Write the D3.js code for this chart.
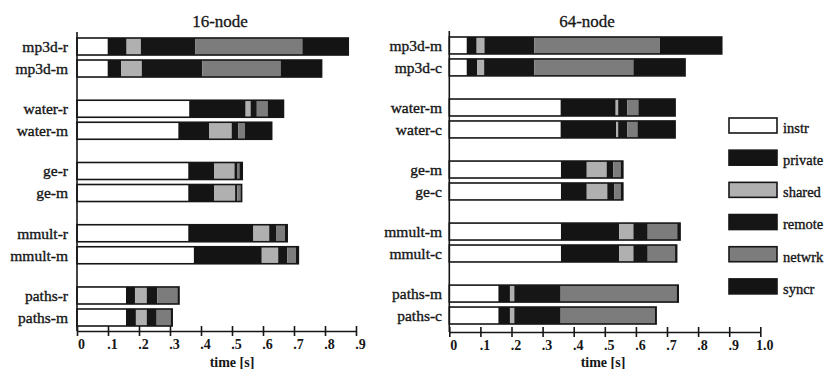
<!DOCTYPE html>
<html>
<head>
<meta charset="utf-8">
<script src="https://cdn.jsdelivr.net/npm/d3@7"></script>
<style>
  html, body { margin: 0; padding: 0; background: #fff; }
  svg { display: block; }
  text { font-family: "Liberation Serif", "DejaVu Serif", serif; fill: #161616; }
</style>
</head>
<body>
<svg id="chart" width="829" height="369"></svg>
<script>
// ---------- data ----------
const segmentNames = ["instr", "private", "shared", "remote", "netwrk", "syncr"];
const segmentColors = ["#ffffff", "#141414", "#b0b0b0", "#161616", "#7c7c7c", "#141414"];

const leftTitle = "16-node";
const leftCategories = ["mp3d-r", "mp3d-m", "water-r", "water-m", "ge-r", "ge-m", "mmult-r", "mmult-m", "paths-r", "paths-m"];
const leftInstr   = [0.099, 0.099, 0.362, 0.327, 0.359, 0.359, 0.359, 0.377, 0.158, 0.158];
const leftPrivate = [0.061, 0.043, 0.182, 0.100, 0.083, 0.083, 0.210, 0.219, 0.029, 0.032];
const leftShared  = [0.046, 0.067, 0.016, 0.072, 0.066, 0.068, 0.051, 0.053, 0.038, 0.035];
const leftRemote  = [0.175, 0.195, 0.020, 0.021, 0.010, 0.007, 0.022, 0.029, 0.034, 0.032];
const leftNetwrk  = [0.346, 0.253, 0.035, 0.022, 0.006, 0.011, 0.029, 0.028, 0.065, 0.045];
const leftSyncr   = [0.148, 0.132, 0.051, 0.086, 0.009, 0.003, 0.007, 0.008, 0.005, 0.005];
const leftTicks = [0, 0.1, 0.2, 0.3, 0.4, 0.5, 0.6, 0.7, 0.8, 0.9];
const leftTickLabels = ["0", ".1", ".2", ".3", ".4", ".5", ".6", ".7", ".8", ".9"];

const rightTitle = "64-node";
const rightCategories = ["mp3d-m", "mp3d-c", "water-m", "water-c", "ge-m", "ge-c", "mmult-m", "mmult-c", "paths-m", "paths-c"];
const rightInstr   = [0.056, 0.056, 0.358, 0.358, 0.359, 0.359, 0.359, 0.359, 0.158, 0.158];
const rightPrivate = [0.032, 0.034, 0.177, 0.178, 0.083, 0.083, 0.187, 0.187, 0.037, 0.037];
const rightShared  = [0.025, 0.022, 0.008, 0.007, 0.064, 0.066, 0.046, 0.046, 0.014, 0.014];
const rightRemote  = [0.160, 0.161, 0.029, 0.029, 0.021, 0.023, 0.046, 0.046, 0.149, 0.149];
const rightNetwrk  = [0.404, 0.319, 0.036, 0.033, 0.024, 0.020, 0.095, 0.088, 0.373, 0.303];
const rightSyncr   = [0.199, 0.166, 0.118, 0.121, 0.007, 0.007, 0.009, 0.005, 0.005, 0.004];
const rightTicks = [0, 0.1, 0.2, 0.3, 0.4, 0.5, 0.6, 0.7, 0.8, 0.9, 1.0];
const rightTickLabels = ["0", ".1", ".2", ".3", ".4", ".5", ".6", ".7", ".8", ".9", "1.0"];

const axisTitle = "time [s]";

// ---------- drawing ----------
const svg = d3.select("#chart");

function buildRows(cats, arrays) {
  return cats.map((c, i) => {
    const vals = arrays.map(a => a[i]);
    let acc = 0;
    const segs = vals.map((v, k) => { const s = { key: segmentNames[k], x0: acc, x1: acc + v, k }; acc += v; return s; });
    return { cat: c, group: Math.floor(i / 2), sub: i % 2, segs, total: acc };
  });
}

function drawPanel(opts) {
  const g = svg.append("g");
  const x = d3.scaleLinear().domain(opts.domain).range(opts.xRange);
  const groups = d3.range(opts.cats.length / 2);
  const yOuter = d3.scaleBand().domain(groups).range(opts.yRange).paddingInner(0.373).paddingOuter(0);
  const yInner = d3.scaleBand().domain([0, 1]).range([0, yOuter.bandwidth()]).paddingInner(0.227).paddingOuter(0);
  const rows = buildRows(opts.cats, opts.arrays);

  const rowG = g.selectAll("g.row").data(rows).join("g")
    .attr("class", "row")
    .attr("transform", d => `translate(0,${yOuter(d.group) + yInner(d.sub)})`);

  rowG.selectAll("rect.seg").data(d => d.segs).join("rect")
    .attr("class", "seg")
    .attr("x", s => x(s.x0))
    .attr("width", s => Math.max(0, x(s.x1) - x(s.x0)))
    .attr("y", 0)
    .attr("height", yInner.bandwidth())
    .attr("fill", s => segmentColors[s.k]);

  rowG.append("rect")
    .attr("x", x(0))
    .attr("y", 0)
    .attr("width", d => x(d.total) - x(0))
    .attr("height", yInner.bandwidth())
    .attr("fill", "none")
    .attr("stroke", "#161616")
    .attr("stroke-width", 1.6);

  rowG.append("text")
    .attr("x", opts.labelX)
    .attr("y", yInner.bandwidth() / 2)
    .attr("dy", "0.34em")
    .attr("text-anchor", "end")
    .attr("font-size", 15.5)
    .attr("stroke", "#161616").attr("stroke-width", 0.35)
    .text(d => d.cat);

  // vertical axis line
  g.append("line")
    .attr("x1", x(0)).attr("x2", x(0))
    .attr("y1", opts.yRange[0] - 6).attr("y2", opts.axisY)
    .attr("stroke", "#161616").attr("stroke-width", 1.6);

  // bottom axis
  const axis = d3.axisBottom(x)
    .tickValues(opts.ticks)
    .tickFormat((d, i) => opts.tickLabels[i])
    .tickSizeInner(5).tickSizeOuter(0).tickPadding(3);
  const ag = g.append("g").attr("transform", `translate(0,${opts.axisY})`).call(axis);
  ag.select(".domain").attr("stroke", "#161616").attr("stroke-width", 1.6);
  ag.selectAll(".tick line").attr("y1", -5).attr("y2", 5).attr("stroke", "#161616").attr("stroke-width", 1.6);
  ag.selectAll(".tick text")
    .attr("font-family", "Liberation Serif, serif")
    .attr("font-size", 14)
    .attr("font-weight", "bold")
    .attr("fill", "#161616")
    .attr("dx", 4);

  g.append("text")
    .attr("x", opts.titleX).attr("y", 27)
    .attr("text-anchor", "middle")
    .attr("font-size", 17)
    .attr("stroke", "#161616").attr("stroke-width", 0.3)
    .text(opts.title);

  g.append("text")
    .attr("x", opts.axisTitleX).attr("y", 367)
    .attr("text-anchor", "middle")
    .attr("font-size", 14)
    .attr("font-weight", "bold")
    .text(axisTitle);
}

drawPanel({
  cats: leftCategories,
  arrays: [leftInstr, leftPrivate, leftShared, leftRemote, leftNetwrk, leftSyncr],
  domain: [0, 0.9], xRange: [77, 356], yRange: [38, 326], axisY: 331,
  ticks: leftTicks, tickLabels: leftTickLabels,
  labelX: 68, title: leftTitle, titleX: 220, axisTitleX: 232
});

drawPanel({
  cats: rightCategories,
  arrays: [rightInstr, rightPrivate, rightShared, rightRemote, rightNetwrk, rightSyncr],
  domain: [0, 1.0], xRange: [449.3, 760.3], yRange: [37, 324], axisY: 332,
  ticks: rightTicks, tickLabels: rightTickLabels,
  labelX: 442, title: rightTitle, titleX: 587, axisTitleX: 603
});

// legend
const legendY = d3.scaleBand().domain(segmentNames).range([118, 295]).paddingInner(0.5).paddingOuter(0);
const lg = svg.append("g").selectAll("g").data(segmentNames).join("g")
  .attr("transform", d => `translate(729,${legendY(d)})`);
lg.append("rect")
  .attr("width", 48).attr("height", 15)
  .attr("fill", (d, i) => segmentColors[i])
  .attr("stroke", "#161616").attr("stroke-width", 1.6);
lg.append("text")
  .attr("x", 54).attr("y", 10).attr("dy", "0.34em")
  .attr("font-size", 14.5)
  .attr("stroke", "#161616").attr("stroke-width", 0.35)
  .text(d => d);
</script>
</body>
</html>
